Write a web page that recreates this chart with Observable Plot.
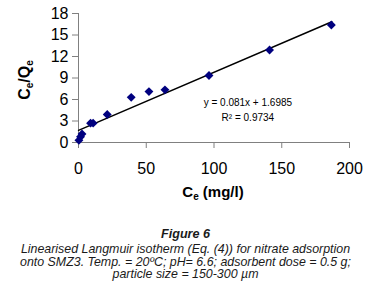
<!DOCTYPE html>
<html><head><meta charset="utf-8">
<script src="https://cdn.jsdelivr.net/npm/d3@7"></script>
<script src="https://cdn.jsdelivr.net/npm/@observablehq/plot@0.6"></script>
<style>
html,body{margin:0;padding:0;background:#fff;font-family:"Liberation Sans",Arial,sans-serif;}
#chart{height:212px;}
#chart svg{display:block;}
#cap{padding-top:16px;width:371px;text-align:center;font-style:italic;font-size:12.4px;line-height:12.8px;color:#1a1a1a;}
#cap .fig{font-weight:bold;font-size:12.6px;margin-bottom:2px;}
</style></head>
<body>
<div id="chart"></div>
<div id="cap"><div class="fig">Figure 6</div>Linearised Langmuir isotherm (Eq. (4)) for nitrate adsorption<br>onto SMZ3. Temp. = 20ºC; pH= 6.6; adsorbent dose = 0.5 g;<br>particle size = 150-300 µm</div>
<script>
const ce = [0.3, 1.5, 2.6, 8.9, 10.8, 21.2, 38.9, 52.0, 63.8, 96.3, 141.0, 186.6];
const ceOverQe = [0.3, 0.8, 1.2, 2.7, 2.7, 3.9, 6.3, 7.1, 7.35, 9.35, 12.9, 16.4];
const trendX = [0, 187];
const trendY = [1.70, 16.85];
const xTicks = [0, 50, 100, 150, 200];
const yTicks = [0, 3, 6, 9, 12, 15, 18];
const eqLines = ["y = 0.081x + 1.6985", "R² = 0.9734"];
const eqX = [125, 125];
const eqY = [5.6, 3.4];

const pts = ce.map((x, i) => ({x, y: ceOverQe[i]}));
const trend = trendX.map((x, i) => ({x, y: trendY[i]}));
const eq = eqLines.map((t, i) => ({t, x: eqX[i], y: eqY[i]}));

const plot = Plot.plot({
  width: 371, height: 212,
  marginLeft: 78, marginRight: 22, marginTop: 13, marginBottom: 70,
  style: {fontFamily: '"Liberation Sans", Arial, sans-serif', background: "#fff", color: "#000"},
  x: {domain: [0, 200]},
  y: {domain: [0, 18]},
  marks: [
    Plot.axisX({ticks: xTicks, tickSize: 6, tickPadding: 14, fontSize: 16, label: null, stroke: "#808080", strokeOpacity: 1}),
    Plot.axisY({ticks: yTicks, tickSize: 6, tickPadding: 4, fontSize: 16, label: null, stroke: "#808080", strokeOpacity: 1}),
    Plot.ruleY([0], {stroke: "#808080"}),
    Plot.ruleX([0], {stroke: "#808080"}),
    Plot.line(trend, {x: "x", y: "y", stroke: "#000", strokeWidth: 1.5}),
    Plot.dot(pts, {x: "x", y: "y", symbol: "diamond2", r: 4, fill: "#00007f", stroke: "none"}),
    Plot.text(eq, {x: "x", y: "y", text: "t", fontSize: 10, fill: "#000"})
  ]
});
document.getElementById("chart").appendChild(plot);

const svg = d3.select(plot);
const yt = svg.append("text")
  .attr("transform", "translate(30,80) rotate(-90)")
  .attr("text-anchor", "middle")
  .attr("font-size", 16).attr("font-weight", "bold")
  .attr("font-family", '"Liberation Sans", Arial, sans-serif');
yt.append("tspan").text("C");
yt.append("tspan").attr("font-size", 10).attr("dy", 3).text("e");
yt.append("tspan").attr("dy", -3).text("/Q");
yt.append("tspan").attr("font-size", 10).attr("dy", 3).text("e");
const xt = svg.append("text")
  .attr("x", 213).attr("y", 197)
  .attr("text-anchor", "middle")
  .attr("font-size", 15).attr("font-weight", "bold")
  .attr("font-family", '"Liberation Sans", Arial, sans-serif');
xt.append("tspan").text("C");
xt.append("tspan").attr("font-size", 10).attr("dy", 3).text("e");
xt.append("tspan").attr("dy", -3).text(" (mg/l)");
</script>
</body></html>
